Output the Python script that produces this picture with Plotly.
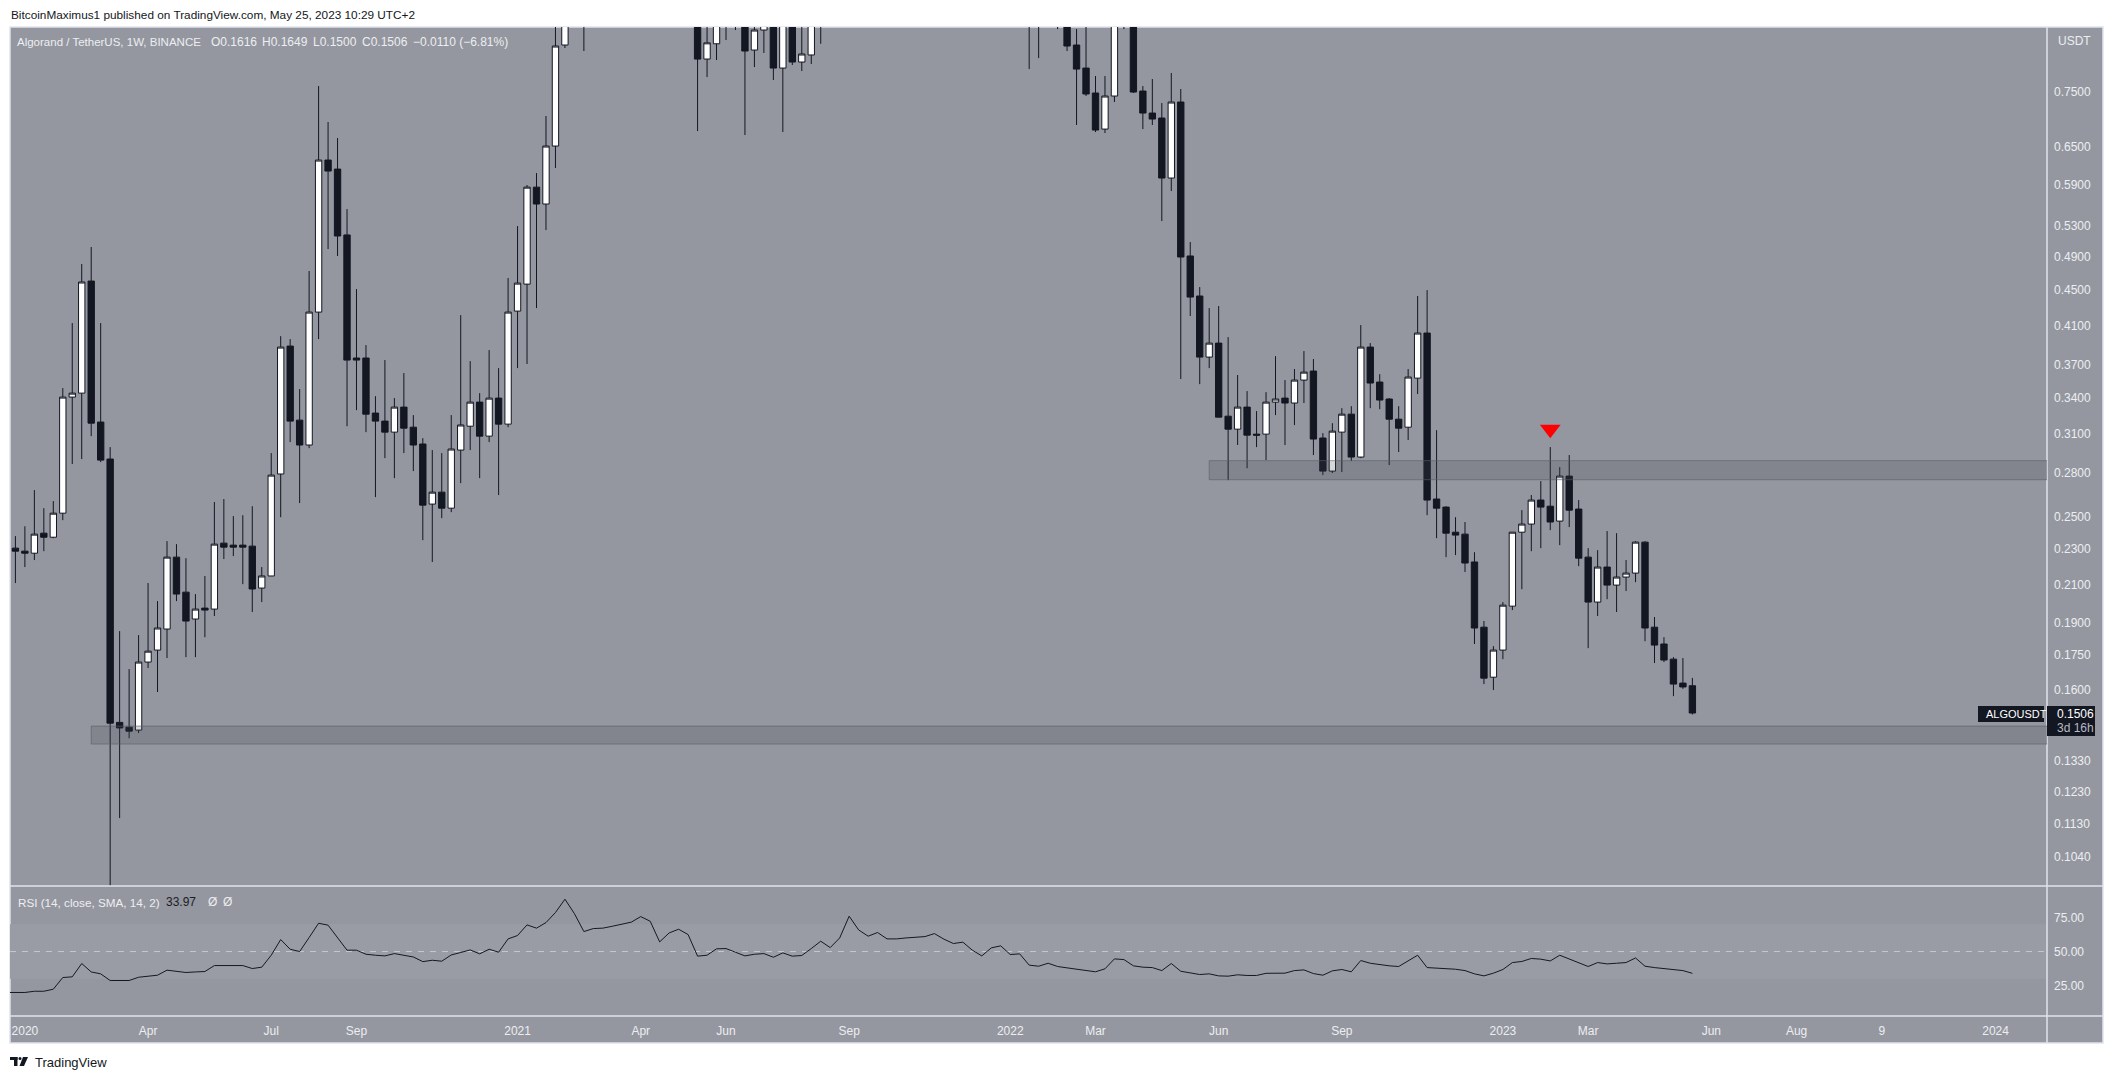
import pandas as pd
import plotly.graph_objects as go
from plotly.subplots import make_subplots

# weekly bars, first one is the week of 2019-12-30
dates = pd.date_range("2019-12-30", periods=178, freq="7D")

opens = [
    .2306, .2288, .2276, .2397, .2372, .2524, .3407, .3442, .4598, .3194,
    .2903, .1470, .1452, .1441, .1718, .1772, .1871, .2253, .2058, .1920,
    .1975, .1970, .2336, .2324, .2324, .2318, .2080, .2146, .2793, .3887,
    .3210, .3010, .4244, .6286, .6141, .5180, .3769, .3769, .3269, .3202,
    .3112, .3320, .3152, .3018, .2584, .2665, .2557, .2971, .3160, .3363,
    .3080, .3398, .3177, .4255, .4562, .5861, .5611, .6518, .8462, 1.05,
    1.20, 1.02, 1.18, 1.26, 1.30, 1.38, 1.45, 1.58, 1.42, 1.05,
    1.22, 1.32, 1.12, .8161, .8489, .97, .91, .93, .8353, .8796,
    .96, .7973, .97, .8098, .8247, .93, 1.05, .98, 1.18, 1.90,
    1.72, 1.55, 1.68, 1.50, 1.55, 1.80, 1.75, 1.82, 1.95, 1.75,
    1.65, 1.55, 1.35, 1.25, 1.45, 1.50, 1.30, 1.25, .97, .92,
    .93, .90, .8462, .7973, .7475, .6810, .7417, .95, .905, .7513,
    .7098, .7007, .6001, .7303, .4906, .4424, .3778, .3917, .3243, .3136,
    .3320, .3096, .3096, .3363, .3398, .3355, .3560, .3644, .3065, .2814,
    .3112, .3260, .2918, .3877, .3542, .3390, .3218, .3152, .3578, .4020,
    .2618, .2564, .2403, .2391, .2225, .1880, .1652, .1772, .1985, .2403,
    .2454, .2611, .2570, .2473, .2778, .2551, .2253, .2006, .2196, .2096,
    .2140, .2162, .2342, .1880, .1800, .1731, .1627, .1616,
]
highs = [
    .2379, .2440, .2679, .2557, .2604, .3487, .4125, .4805, .5021, .4125,
    .2994, .1861, .1687, .1842, .2107, .2011, .2348, .2330, .2247, .2048,
    .2146, .2598, .2618, .2505, .2511, .2570, .2196, .2948, .3988, .3958,
    .3478, .4719, .7611, .6935, .6654, .5538, .4504, .3897, .3415, .3749,
    .3398, .3625, .3252, .3064, .2971, .2948, .3252, .4211, .3739, .3442,
    .3847, .3672, .4634, .5300, .5893, .6078, .7044, .92, 1.12, 1.30,
    1.38, 1.23, 1.32, 1.42, 1.44, 1.50, 1.72, 1.76, 1.52, 1.30,
    1.42, 1.38, 1.16, .94, 1.00, 1.06, 1.05, 1.00, .96, 1.04,
    1.02, 1.03, 1.00, .93, 1.00, 1.18, 1.10, 1.25, 2.20, 2.55,
    2.00, 1.85, 1.75, 1.75, 1.95, 2.10, 2.05, 2.05, 2.10, 1.95,
    1.80, 1.65, 1.60, 1.55, 1.70, 1.60, 1.45, 1.28, 1.05, 1.02,
    1.00, .97, .8818, .91, .7810, .7810, 1.00, 1.08, .95, .7611,
    .7750, .7284, .7872, .7553, .5086, .4527, .4288, .4311, .3978, .3607,
    .3460, .3286, .3451, .3787, .3560, .3663, .3837, .3759, .3104, .3185,
    .3311, .3328, .4104, .3917, .3615, .3398, .3328, .3663, .4424, .4492,
    .3128, .2570, .2498, .2467, .2282, .1910, .1790, .2006, .2403, .2544,
    .2645, .2742, .2994, .2843, .2933, .2611, .2306, .2294, .2410, .2397,
    .2236, .2348, .2348, .1930, .1832, .1740, .1736, .1649,
]
lows = [
    .2107, .2196, .2236, .2288, .2366, .2479, .2866, .2903, .3080, .2880,
    .0900, .1148, .1411, .1430, .1692, .1590, .1736, .2011, .1740, .1740,
    .1832, .1935, .2242, .2259, .2101, .1955, .2006, .2146, .2498, .3033,
    .2591, .2986, .3958, .4995, .4906, .3160, .3294, .3112, .2631, .2910,
    .2763, .2948, .2814, .2354, .2225, .2492, .2531, .2728, .2971, .2763,
    .3033, .2645, .3152, .3672, .3711, .4288, .5246, .6158, .8397, .95,
    .8332, .93, 1.07, 1.14, 1.20, 1.25, 1.30, 1.35, .99, .94,
    1.12, 1.05, .6775, .7790, .8140, .8572, .8796, .6706, .7994, .8290,
    .7730, .6758, .8036, .7912, .8057, .8489, .92, .95, 1.15, 1.55,
    1.45, 1.40, 1.40, 1.38, 1.50, 1.70, 1.65, 1.70, 1.55, 1.55,
    1.40, 1.10, 1.20, 1.20, 1.30, 1.25, 1.15, .7952, .8181, .89,
    .8818, .8332, .6882, .7417, .6758, .6741, .7303, .8818, .7475, .6810,
    .6882, .5369, .5802, .3570, .4201, .3523, .3672, .3235, .2749, .3010,
    .2835, .2994, .2895, .3252, .3010, .3169, .3355, .2933, .2785, .2800,
    .2807, .2888, .2910, .3311, .3302, .2858, .2956, .3049, .3434, .2511,
    .2366, .2253, .2265, .2168, .1800, .1623, .1598, .1731, .1965, .2074,
    .2288, .2306, .2416, .2324, .2435, .2201, .1781, .1935, .2021, .1955,
    .2064, .2112, .1813, .1714, .1718, .1573, .1603, .1500,
]
closes = [
    .2288, .2276, .2391, .2372, .2524, .3407, .3442, .4587, .3185, .2895,
    .1467, .1449, .1437, .1718, .1767, .1876, .2253, .2048, .1910, .1970,
    .1965, .2330, .2312, .2312, .2312, .2075, .2146, .2785, .3877, .3202,
    .3010, .4244, .6286, .6110, .5166, .3749, .3749, .3260, .3202, .3112,
    .3320, .3144, .3010, .2577, .2665, .2557, .2979, .3170, .3363, .3080,
    .3398, .3177, .4244, .4574, .5861, .5611, .6518, .8440, 1.05, 1.15,
    1.02, 1.18, 1.26, 1.30, 1.38, 1.45, 1.58, 1.42, 1.05, 1.22,
    1.32, 1.12, .8160, .8510, .97, .91, .93, .8332, .8796, .93,
    .7973, .97, .8098, .8268, .93, 1.05, .98, 1.18, 1.90, 1.72,
    1.55, 1.68, 1.50, 1.55, 1.80, 1.75, 1.82, 1.95, 1.75, 1.65,
    1.55, 1.35, 1.25, 1.45, 1.50, 1.30, 1.25, .97, .92, .93,
    .90, .8440, .7952, .7456, .6793, .7417, .95, .905, .7494, .7098,
    .6989, .6001, .7303, .4893, .4412, .3778, .3917, .3235, .3136, .3320,
    .3088, .3088, .3363, .3390, .3355, .3560, .3634, .3057, .2814, .3120,
    .3260, .2918, .3877, .3533, .3381, .3218, .3144, .3588, .4020, .2611,
    .2557, .2397, .2385, .2219, .1876, .1648, .1772, .1990, .2403, .2454,
    .2611, .2564, .2467, .2778, .2544, .2247, .2006, .2196, .2096, .2140,
    .2162, .2342, .1876, .1795, .1727, .1623, .1611, .1506,
]
rsi = [
    19.9, 19.9, 20.8, 20.8, 22.3, 30.9, 31.4, 41.2, 35.0, 33.6,
    28.7, 28.7, 28.7, 31.1, 31.6, 32.6, 36.3, 35.3, 34.6, 35.0,
    35.3, 39.7, 39.7, 39.7, 39.7, 37.5, 38.5, 47.3, 58.8, 51.7,
    50.0, 60.3, 70.8, 69.4, 60.3, 51.0, 51.0, 48.0, 47.3, 46.8,
    48.5, 47.5, 46.0, 42.6, 43.6, 42.9, 47.5, 49.3, 51.2, 48.3,
    51.7, 49.5, 59.3, 61.8, 69.6, 67.2, 71.3, 78.7, 88.5, 77.9,
    64.7, 66.9, 67.2, 68.6, 70.1, 71.6, 75.7, 72.3, 57.1, 63.7,
    66.4, 62.5, 46.6, 47.3, 52.0, 52.2, 49.5, 46.8, 48.0, 48.5,
    45.8, 49.0, 46.6, 47.1, 52.2, 57.6, 52.9, 60.0, 76.0, 65.9,
    61.3, 64.0, 59.3, 59.3, 60.0, 60.3, 61.0, 63.2, 59.1, 55.9,
    56.9, 51.0, 46.8, 52.7, 54.2, 47.8, 48.3, 40.0, 39.2, 41.4,
    39.0, 38.0, 37.0, 36.3, 35.1, 37.3, 44.6, 44.1, 39.5, 38.5,
    38.2, 36.0, 41.2, 35.5, 34.3, 33.1, 33.6, 32.1, 31.9, 32.9,
    32.4, 32.4, 34.0, 34.1, 34.1, 36.0, 36.5, 33.8, 32.6, 35.8,
    36.8, 35.1, 43.4, 41.4, 40.2, 39.5, 39.0, 43.1, 47.3, 38.2,
    37.8, 37.0, 37.0, 36.0, 33.6, 32.1, 34.1, 36.8, 41.9, 42.7,
    44.9, 44.4, 43.1, 47.3, 44.4, 41.4, 39.0, 41.9, 40.9, 41.4,
    41.9, 45.3, 39.2, 38.2, 37.5, 36.3, 36.0, 33.97,
]
# the rsi line already runs in from before the first bar shown
rsi_before = 19.9

price_ticks = [0.75, 0.65, 0.59, 0.53, 0.49, 0.45, 0.41, 0.37, 0.34, 0.31, 0.28, 0.25,
               0.23, 0.21, 0.19, 0.175, 0.16, 0.133, 0.123, 0.113, 0.104]
rsi_ticks = [75, 50, 25]
time_ticks = ["2020-01-06", "2020-04-06", "2020-07-06", "2020-09-07", "2021-01-04", "2021-04-05",
              "2021-06-07", "2021-09-06", "2022-01-03", "2022-03-07", "2022-06-06", "2022-09-05",
              "2023-01-02", "2023-03-06", "2023-06-05", "2023-08-07", "2023-10-09", "2024-01-01"]
time_labels = ["2020", "Apr", "Jul", "Sep", "2021", "Apr", "Jun", "Sep", "2022", "Mar", "Jun", "Sep",
               "2023", "Mar", "Jun", "Aug", "9", "2024"]
upper_zone = [0.2752, 0.2891]
lower_zone = [0.1390, 0.1456]
peak_date = "2023-02-06"
peak_marker = 0.3136

BG = "#94979f"
BAND = "#999ca5"
LINE = "#e0e3eb"
DARK = "#131722"
LIGHT = "#eceef2"
FONT = "Liberation Sans"
W, H = 2113, 1079
L, R, T, B = 10, 2047, 27, 1016


def px(x):
    return (x - L) / (R - L)


def py(y):
    return (B - y) / (B - T)


fig = make_subplots(rows=2, cols=1, shared_xaxes=True, vertical_spacing=0, row_heights=[859, 130])
fig.add_trace(go.Candlestick(
    x=dates, open=opens, high=highs, low=lows, close=closes, whiskerwidth=0,
    increasing=dict(fillcolor="#ffffff", line=dict(color=DARK, width=1)),
    decreasing=dict(fillcolor=DARK, line=dict(color=DARK, width=1)),
    showlegend=False), row=1, col=1)
fig.add_trace(go.Scatter(x=[peak_date], y=[peak_marker], mode="markers",
                         marker=dict(symbol="triangle-down", size=18, color="#ff0000"),
                         showlegend=False), row=1, col=1)
fig.add_trace(go.Scatter(x=[dates[0] - pd.Timedelta(days=7)] + list(dates), y=[rsi_before] + rsi, mode="lines",
                         line=dict(color="#16181f", width=1), showlegend=False), row=2, col=1)

x_start = dates[0] - pd.Timedelta(days=4)
x_end = dates[0] + pd.Timedelta(days=1501)

# panel, bands and separators
fig.add_shape(type="rect", xref="paper", yref="paper", x0=px(L), x1=px(2103), y0=py(T), y1=py(1043),
              fillcolor=BG, line=dict(color=LINE, width=1.5), layer="below")
fig.add_shape(type="rect", xref="paper", yref="y2", x0=0, x1=1, y0=30, y1=70,
              fillcolor=BAND, line=dict(width=0), layer="below")
fig.add_shape(type="line", xref="paper", yref="y2", x0=0, x1=1, y0=50, y1=50,
              line=dict(color="#c6c8ce", width=1, dash="6px,6px"), layer="below")
for y in [886, 1016]:
    fig.add_shape(type="line", xref="paper", yref="paper", x0=0, x1=px(2103), y0=py(y), y1=py(y),
                  line=dict(color=LINE, width=1.5))
fig.add_shape(type="line", xref="paper", yref="paper", x0=1, x1=1, y0=py(T), y1=py(1043),
              line=dict(color=LINE, width=1.5))

# grey zones
for start, zone in [(dates[8], lower_zone), (dates[126], upper_zone)]:
    fig.add_shape(type="rect", xref="x", yref="y", x0=start, x1=x_end, y0=zone[0], y1=zone[1],
                  fillcolor="rgba(70,73,82,0.22)", line=dict(color="rgba(90,93,102,0.6)", width=1))

# last price tags
fig.add_shape(type="rect", xref="paper", yref="paper", x0=px(1978), x1=px(2044), y0=py(706), y1=py(722),
              fillcolor=DARK, line=dict(width=0))
fig.add_shape(type="rect", xref="paper", yref="paper", x0=px(2047), x1=px(2095), y0=py(706), y1=py(736),
              fillcolor=DARK, line=dict(width=0))

# tradingview logo
fig.add_shape(type="rect", xref="paper", yref="paper", x0=px(10), x1=px(17.5), y0=py(1057), y1=py(1060),
              fillcolor=DARK, line=dict(width=0))
fig.add_shape(type="rect", xref="paper", yref="paper", x0=px(14), x1=px(17.5), y0=py(1057), y1=py(1066),
              fillcolor=DARK, line=dict(width=0))
fig.add_shape(type="circle", xref="paper", yref="paper", x0=px(18.5), x1=px(21.5), y0=py(1057), y1=py(1060),
              fillcolor=DARK, line=dict(width=0))
fig.add_shape(type="path", xref="paper", yref="paper",
              path=f"M {px(23)},{py(1057)} L {px(28)},{py(1057)} L {px(24)},{py(1066)} L {px(19.5)},{py(1066)} Z",
              fillcolor=DARK, line=dict(width=0))


def note(x, y, text, color=LIGHT, size=12):
    fig.add_annotation(xref="paper", yref="paper", x=px(x), y=py(y), text=text, showarrow=False,
                       xanchor="left", yanchor="middle", xshift=0,
                       font=dict(family=FONT, size=size, color=color))


note(9, 15, "BitcoinMaximus1 published on TradingView.com, May 25, 2023 10:29 UTC+2", DARK, 11.8)
note(15, 42, "Algorand / TetherUS, 1W, BINANCE", LIGHT, 11.5)
note(209, 42, "O0.1616", LIGHT)
note(260, 42, "H0.1649", LIGHT)
note(311, 42, "L0.1500", LIGHT)
note(360, 42, "C0.1506", LIGHT)
note(411, 42, "−0.0110 (−6.81%)", LIGHT)
note(16, 902, "RSI (14, close, SMA, 14, 2)", LIGHT, 11.7)
note(164, 902, "33.97", "#1b1d24")
note(206, 902, "Ø", LIGHT)
note(221, 902, "Ø", LIGHT)
note(2056, 41, "USDT", LIGHT)
note(1984, 714, "ALGOUSDT", "#ffffff", 11)
note(2055, 714, "0.1506", "#ffffff")
note(2055, 728, "3d 16h", "#b8bac2")
note(33, 1062, "TradingView", DARK, 13)

axis_font = dict(family=FONT, size=12, color=LIGHT)
fig.update_xaxes(range=[x_start, x_end], showgrid=False, zeroline=False, showline=False, ticks="",
                 rangeslider_visible=False, tickmode="array", tickvals=time_ticks, ticktext=time_labels,
                 tickfont=axis_font)
fig.update_xaxes(showticklabels=False, row=1, col=1)
fig.update_xaxes(showticklabels=True, ticklabelstandoff=6, row=2, col=1)
fig.update_yaxes(side="right", showgrid=False, zeroline=False, showline=False, ticks="", tickfont=axis_font,
                 ticklabelstandoff=6)
fig.update_yaxes(type="log", range=[-1.0163, -0.0523], tickmode="array", tickvals=price_ticks,
                 ticktext=[f"{p:.4f}" for p in price_ticks], row=1, col=1)
fig.update_yaxes(range=[2.6, 98.2], tickmode="array", tickvals=rsi_ticks,
                 ticktext=[f"{v:.2f}" for v in rsi_ticks], row=2, col=1)
fig.update_layout(width=W, height=H, margin=dict(l=L, r=W - R, t=T, b=H - B),
                  paper_bgcolor="#ffffff", plot_bgcolor="rgba(0,0,0,0)", boxgap=0.33, boxgroupgap=0,
                  showlegend=False, hovermode=False, font=dict(family=FONT))
# the page's default body margin would push the whole chart 8px off
fig.write_html("out.html", config={"displayModeBar": False},
               post_script="document.body.style.margin='0';document.body.style.overflow='hidden';")
